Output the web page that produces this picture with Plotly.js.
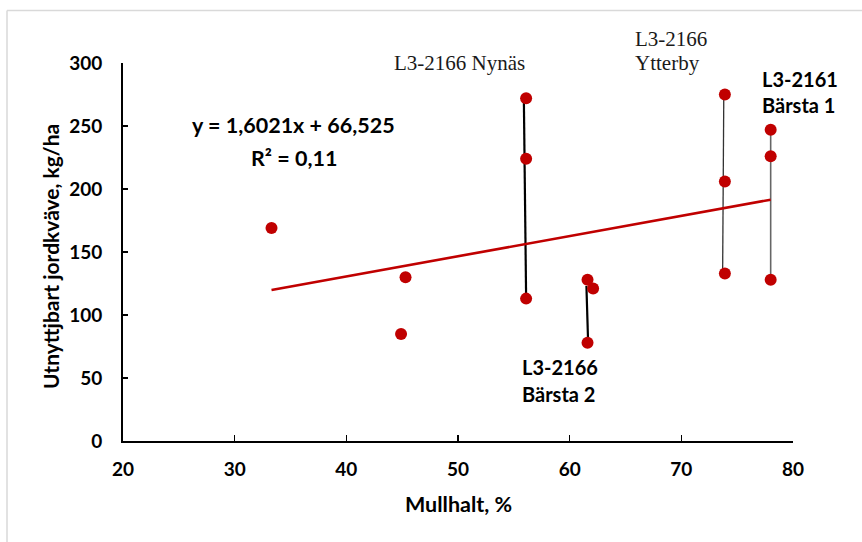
<!DOCTYPE html>
<html>
<head>
<meta charset="utf-8">
<script src="https://cdn.plot.ly/plotly-3.0.1.min.js"></script>
<style>html,body{margin:0;padding:0;background:#fff;}#chart{width:862px;height:542px;}</style>
</head>
<body>
<div id="chart"></div>
<script>
// Data points (Mullhalt %, Utnyttjbart jordkväve kg/ha)
const mullhalt = [33.3, 45.3, 44.9, 56.1, 56.1, 56.1, 61.6, 62.1, 61.6, 73.9, 73.9, 73.9, 78.0, 78.0, 78.0];
const kvave    = [169, 130, 85, 272, 224, 113, 128, 121, 78, 275, 206, 133, 247, 226, 128];

// Connecting lines within sites
const nynasX = [55.9, 56.1];      const nynasY = [270, 114];
const barsta2X = [61.5, 61.65];   const barsta2Y = [123, 79];
const ytterbyX = [73.8, 73.7];    const ytterbyY = [273, 135];
const barsta1X = [78.0, 78.0];    const barsta1Y = [243, 128];

// Trendline y = 1,6021x + 66,525
const slope = 1.6021, intercept = 66.525;
const trendX = [Math.min(...mullhalt), Math.max(...mullhalt)];
const trendY = trendX.map(x => slope * x + intercept);

const xTicks = [20, 30, 40, 50, 60, 70, 80];
const yTicks = [0, 50, 100, 150, 200, 250, 300];

const sans = "Lato, 'Open Sans', sans-serif";
const serif = "'Liberation Serif', 'DejaVu Serif', serif";

const traces = [
  {x: nynasX, y: nynasY, mode: 'lines', line: {color: '#000', width: 2.2}, hoverinfo: 'skip'},
  {x: barsta2X, y: barsta2Y, mode: 'lines', line: {color: '#000', width: 2.2}, hoverinfo: 'skip'},
  {x: ytterbyX, y: ytterbyY, mode: 'lines', line: {color: '#333', width: 1.3}, hoverinfo: 'skip'},
  {x: barsta1X, y: barsta1Y, mode: 'lines', line: {color: '#666', width: 1.6}, hoverinfo: 'skip'},
  {x: trendX, y: trendY, mode: 'lines', line: {color: '#C00000', width: 2.6}, hoverinfo: 'skip'},
  {x: mullhalt, y: kvave, mode: 'markers', marker: {color: '#C00000', size: 12}, cliponaxis: false}
];

function ann(xp, yp, text, font, xanchor, angle) {
  return {x: xp, y: yp, xref: 'paper', yref: 'paper', text: text, showarrow: false, textangle: angle || 0,
          font: font, xanchor: xanchor, yanchor: 'middle', align: xanchor === 'center' ? 'center' : 'left'};
}
const eqFont = {family: sans, size: 21.5, color: '#000', weight: 'bold'};
const serifFont = {family: serif, size: 21, color: '#1a1a1a'};
const lblFont = {family: sans, size: 20, color: '#000', weight: 'bold'};
const axTitleFont = {family: sans, size: 21.5, color: '#000', weight: 'bold'};
function py(p) { return (440.7 - p) / 377.4; }
function px(p) { return (p - 123) / 670; }

const layout = {
  width: 862, height: 542,
  margin: {l: 123, r: 69, t: 63, b: 101},
  paper_bgcolor: '#fff', plot_bgcolor: '#fff',
  showlegend: false,
  font: {family: sans, color: '#000'},
  xaxis: {
    range: [20, 80], tickvals: xTicks, ticktext: xTicks.map(String),
    showgrid: false, zeroline: false, showline: true, linecolor: '#000', linewidth: 2,
    ticks: 'inside', ticklen: 6, tickwidth: 1.5, tickcolor: '#000', ticklabelstandoff: 10,
    tickfont: {family: sans, size: 19, color: '#000', weight: 'bold'}
  },
  yaxis: {
    range: [0, 300], tickvals: yTicks, ticktext: yTicks.map(String),
    showgrid: false, zeroline: false, showline: true, linecolor: '#000', linewidth: 2,
    ticks: 'inside', ticklen: 5, tickwidth: 1.5, tickcolor: '#000', ticklabelstandoff: 15,
    tickfont: {family: sans, size: 19, color: '#000', weight: 'bold'}
  },
  shapes: [
    {type: 'line', xref: 'paper', yref: 'paper', x0: px(7), x1: px(7), y0: py(11), y1: py(560), line: {color: '#d9d9d9', width: 1.5}},
    {type: 'line', xref: 'paper', yref: 'paper', x0: px(7), x1: px(880), y0: py(11), y1: py(11), line: {color: '#d9d9d9', width: 1.5}}
  ],
  annotations: [
    ann(px(458), py(504), 'Mullhalt, %', axTitleFont, 'center'),
    ann(px(50), py(257), 'Utnyttjbart jordkväve, kg/ha', {family: sans, size: 21, color: '#000', weight: 'bold'}, 'center', -90),
    ann(px(293.5), py(125), 'y = 1,6021x + 66,525', eqFont, 'center'),
    ann(px(293.5), py(158), 'R² = 0,11', eqFont, 'center'),
    ann(px(459), py(63), 'L3-2166 Nynäs', serifFont, 'center'),
    ann(px(633), py(39), 'L3-2166', serifFont, 'left'),
    ann(px(633), py(63), 'Ytterby', serifFont, 'left'),
    ann(px(760), py(79), 'L3-2161', lblFont, 'left'),
    ann(px(760), py(105), 'Bärsta 1', lblFont, 'left'),
    ann(px(520), py(367), 'L3-2166', lblFont, 'left'),
    ann(px(520), py(394), 'Bärsta 2', lblFont, 'left')
  ]
};

Plotly.newPlot('chart', traces, layout, {displayModeBar: false, staticPlot: true});
</script>
</body>
</html>
